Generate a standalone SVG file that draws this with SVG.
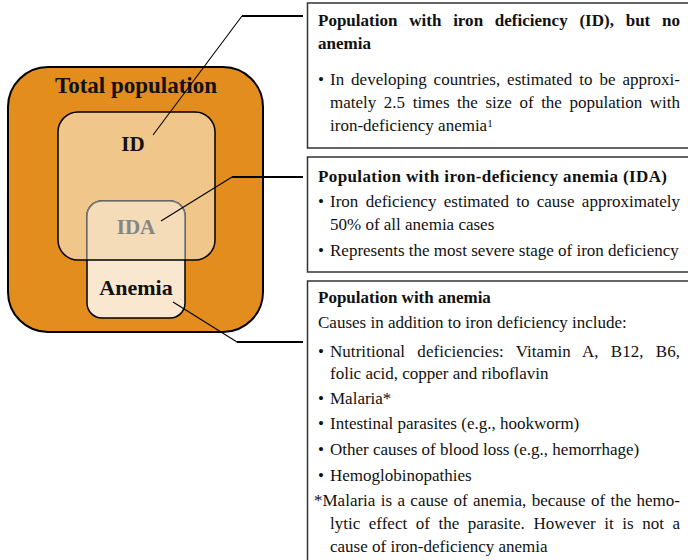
<svg xmlns="http://www.w3.org/2000/svg" width="688" height="560" viewBox="0 0 688 560">
<style>
.box{fill:#fff;stroke:#333;stroke-width:1.5}
.t{font-family:"Liberation Serif","Times New Roman",serif;font-size:17px;fill:#111}
.b{font-weight:bold}
.lbl{font-family:"Liberation Serif","Times New Roman",serif;font-weight:bold;text-anchor:middle;fill:#111}
.diag{stroke:#000;stroke-width:1.1;fill:none}
.hor{stroke:#000;stroke-width:2;fill:none}
</style>
<defs>
<clipPath id="topPart"><rect x="0" y="0" width="300" height="260"/></clipPath>
</defs>
<g id="total">
<rect x="8" y="67" width="255" height="265" rx="40" fill="#E38D1E" stroke="#000" stroke-width="2"/>
<text class="lbl" x="136" y="93" font-size="23">Total population</text>
</g>
<g id="id">
<rect x="58" y="112" width="157" height="148" rx="20" fill="#F0C68A" stroke="#000" stroke-width="1.5"/>
<text class="lbl" x="133" y="151" font-size="21">ID</text>
</g>
<g id="anemia">
<rect x="87" y="201" width="98" height="117" rx="15" fill="#FAE7D0" stroke="#000" stroke-width="1.5"/>
<text class="lbl" x="136" y="295" font-size="22">Anemia</text>
</g>
<g id="ida">
<rect x="87" y="201" width="98" height="117" rx="15" fill="#F5DCB9" stroke="#7a7a7a" stroke-width="1.5" clip-path="url(#topPart)"/>
<line x1="86" y1="260" x2="186" y2="260" stroke="#000" stroke-width="1.5"/>
<text class="lbl" x="136" y="234" font-size="21" style="fill:#858585">IDA</text>
</g>
<g id="connectors">
<line class="diag" x1="153" y1="135" x2="242" y2="16"/>
<line class="hor" x1="242" y1="16" x2="303" y2="16"/>
<line class="diag" x1="161" y1="221" x2="232" y2="177"/>
<line class="hor" x1="232" y1="177" x2="303" y2="177"/>
<line class="diag" x1="173" y1="302" x2="237" y2="342"/>
<line class="hor" x1="237" y1="342" x2="303" y2="342"/>
</g>
<g id="box-id">
<rect class="box" x="307.5" y="3" width="400" height="145"/>
<text class="t b" x="318" y="26" word-spacing="7.5" textLength="362" lengthAdjust="spacing">Population with iron deficiency (ID), but no</text>
<text class="t b" x="318" y="49">anemia</text>
<text class="t" x="318" y="85">•</text>
<text class="t" x="330" y="85" word-spacing="2.7" textLength="350" lengthAdjust="spacing">In developing countries, estimated to be approxi-</text>
<text class="t" x="330" y="108" word-spacing="3.3" textLength="350" lengthAdjust="spacing">mately 2.5 times the size of the population with</text>
<text class="t" x="330" y="131">iron-deficiency anemia<tspan font-size="11" dy="-4">1</tspan></text>
</g>
<g id="box-ida">
<rect class="box" x="307.5" y="157" width="400" height="115"/>
<text class="t b" x="318" y="182" textLength="349" lengthAdjust="spacing">Population with iron-deficiency anemia (IDA)</text>
<text class="t" x="318" y="207">•</text>
<text class="t" x="330" y="207" word-spacing="3.1" textLength="350" lengthAdjust="spacing">Iron deficiency estimated to cause approximately</text>
<text class="t" x="330" y="230">50% of all anemia cases</text>
<text class="t" x="318" y="256">•</text>
<text class="t" x="330" y="256">Represents the most severe stage of iron deficiency</text>
</g>
<g id="box-anemia">
<rect class="box" x="307.5" y="281" width="400" height="300"/>
<text class="t b" x="318" y="303">Population with anemia</text>
<text class="t" x="318" y="328">Causes in addition to iron deficiency include:</text>
<text class="t" x="318" y="357">•</text>
<text class="t" x="330" y="357" word-spacing="7.9" textLength="350" lengthAdjust="spacing">Nutritional deficiencies: Vitamin A, B12, B6,</text>
<text class="t" x="330" y="379">folic acid, copper and riboflavin</text>
<text class="t" x="318" y="404">•</text>
<text class="t" x="330" y="404">Malaria*</text>
<text class="t" x="318" y="429">•</text>
<text class="t" x="330" y="429">Intestinal parasites (e.g., hookworm)</text>
<text class="t" x="318" y="455">•</text>
<text class="t" x="330" y="455">Other causes of blood loss (e.g., hemorrhage)</text>
<text class="t" x="318" y="481">•</text>
<text class="t" x="330" y="481">Hemoglobinopathies</text>
<text class="t" x="314" y="506" word-spacing="1.1" textLength="366" lengthAdjust="spacing">*Malaria is a cause of anemia, because of the hemo-</text>
<text class="t" x="330" y="529" word-spacing="4.3" textLength="350" lengthAdjust="spacing">lytic effect of the parasite. However it is not a</text>
<text class="t" x="330" y="552">cause of iron-deficiency anemia</text>
</g>
</svg>
